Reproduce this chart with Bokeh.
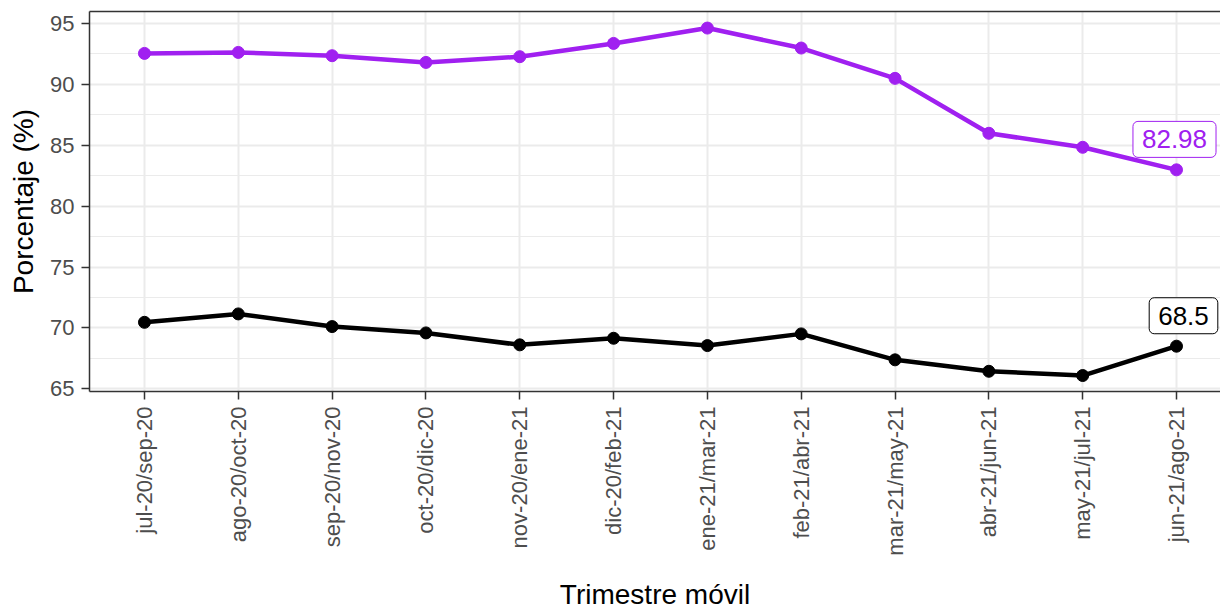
import math
from bokeh.plotting import figure
from bokeh.models import Range1d, FixedTicker, LinearAxis, Label
from bokeh.embed import file_html
from bokeh.resources import INLINE

trimestres = ["jul-20/sep-20", "ago-20/oct-20", "sep-20/nov-20", "oct-20/dic-20",
              "nov-20/ene-21", "dic-20/feb-21", "ene-21/mar-21", "feb-21/abr-21",
              "mar-21/may-21", "abr-21/jun-21", "may-21/jul-21", "jun-21/ago-21"]
serie_morada = [92.54, 92.62, 92.35, 91.80, 92.27, 93.36, 94.62, 92.98, 90.49, 85.98, 84.83, 82.98]
serie_negra = [70.46, 71.15, 70.11, 69.59, 68.61, 69.15, 68.55, 69.51, 67.38, 66.44, 66.09, 68.50]
y_ticks = [65, 70, 75, 80, 85, 90, 95]
y_minor = [67.5, 72.5, 77.5, 82.5, 87.5, 92.5]

PURPLE = "#A020F0"
FONT = "Liberation Sans"

xs = list(range(len(trimestres)))

p = figure(width=1220, height=613, output_backend="svg", toolbar_location=None,
           x_range=Range1d(-0.586, 11.469), y_range=Range1d(64.78, 95.98),
           min_border_left=89, min_border_right=0, min_border_top=11, min_border_bottom=222)
p.outline_line_color = None
p.background_fill_color = "white"

# grids
p.xgrid.ticker = FixedTicker(ticks=xs)
p.xgrid.grid_line_color = "#EBEBEB"
p.xgrid.grid_line_width = 2
p.ygrid.ticker = FixedTicker(ticks=y_ticks, minor_ticks=y_minor)
p.ygrid.grid_line_color = "#EBEBEB"
p.ygrid.grid_line_width = 2
p.ygrid.minor_grid_line_color = "#EBEBEB"
p.ygrid.minor_grid_line_width = 1

# x axis
xa = p.xaxis[0]
xa.ticker = FixedTicker(ticks=xs)
xa.major_label_overrides = {i: t for i, t in enumerate(trimestres)}
xa.major_label_orientation = math.pi / 2
xa.axis_label = "Trimestre móvil"

# y axis
ya = p.yaxis[0]
ya.ticker = FixedTicker(ticks=y_ticks)
ya.axis_label = "Porcentaje (%)"

for ax in (xa, ya):
    ax.axis_line_color = "#333333"
    ax.axis_line_width = 1.5
    ax.major_tick_line_color = "#333333"
    ax.major_tick_line_width = 1.5
    ax.major_tick_in = 0
    ax.major_tick_out = 8
    ax.minor_tick_line_color = None
    ax.major_label_text_font = FONT
    ax.major_label_text_font_size = "22px"
    ax.major_label_text_color = "#4D4D4D"
    ax.major_label_standoff = 7
    ax.axis_label_text_font = FONT
    ax.axis_label_text_font_size = "28px"
    ax.axis_label_text_font_style = "normal"
    ax.axis_label_text_color = "black"
    ax.axis_label_standoff = 8
xa.axis_label_standoff = 20

# top border
top = LinearAxis(ticker=FixedTicker(ticks=[]), axis_line_color="#333333", axis_line_width=1.5,
                 major_tick_line_color=None, minor_tick_line_color=None,
                 major_label_text_font_size="0px", major_label_standoff=0,
                 major_tick_out=0, major_tick_in=0, axis_label_standoff=0)
p.add_layout(top, "above")

# series
p.line(xs, serie_morada, line_color=PURPLE, line_width=4.5)
p.scatter(xs, serie_morada, size=12, fill_color=PURPLE, line_color=PURPLE)
p.line(xs, serie_negra, line_color="black", line_width=4.5)
p.scatter(xs, serie_negra, size=12, fill_color="black", line_color="black")

# end labels
for serie, col, xoff in ((serie_morada, PURPLE, -2), (serie_negra, "black", 7)):
    lab = Label(x=xs[-1], y=serie[-1] + 2.5, text=f"{serie[-1]:g}", x_offset=xoff,
                text_align="center", text_baseline="middle",
                text_font=FONT, text_font_size="26px", text_color=col,
                border_line_color=col, border_line_width=1,
                background_fill_color="white", border_radius=5, padding=9)
    p.add_layout(lab)

open("out.html", "w").write(file_html(p, INLINE))
